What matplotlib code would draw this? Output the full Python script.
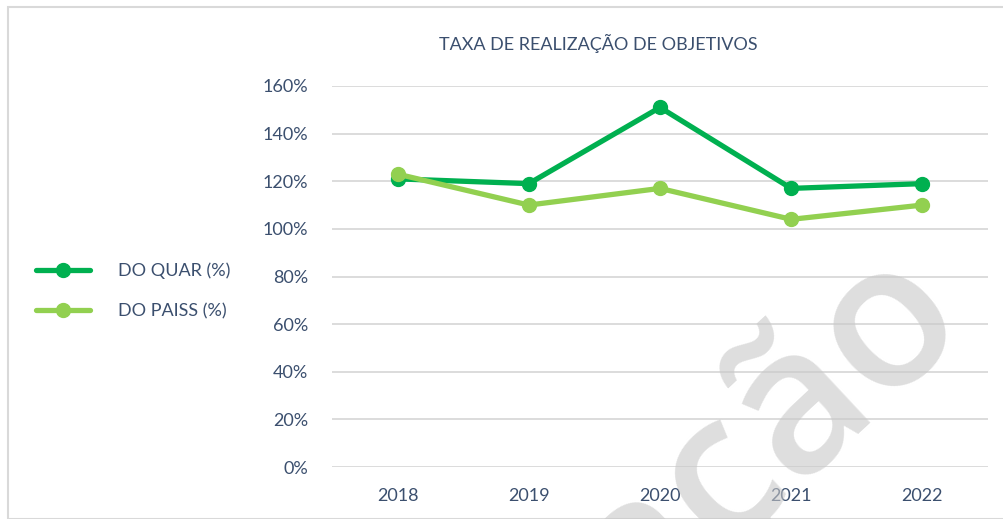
import matplotlib
matplotlib.use("Agg")
import matplotlib.pyplot as plt
from matplotlib.patches import Rectangle

years = ["2018", "2019", "2020", "2021", "2022"]
do_quar = [121, 119, 151, 117, 119]
do_paiss = [123, 110, 117, 104, 110]
series_names = ["DO QUAR (%)", "DO PAISS (%)"]
title = "TAXA DE REALIZAÇÃO DE OBJETIVOS"
yticks = [0, 20, 40, 60, 80, 100, 120, 140, 160]

plt.rcParams['font.family'] = ['Lato', 'DejaVu Sans']
txt = '#3B4F6E'
fs = 13

fig = plt.figure(figsize=(10.04, 5.19), dpi=100)
W, H = 1004, 519
ax = fig.add_axes([332 / W, 1 - 467 / H, (988 - 332) / W, (467 - 86) / H])

x = list(range(len(years)))
l1, = ax.plot(x, do_quar, color='#00B050', lw=3.8, marker='o', ms=10,
              solid_capstyle='round', zorder=3, label=series_names[0])
l2, = ax.plot(x, do_paiss, color='#92D050', lw=3.8, marker='o', ms=10,
              solid_capstyle='round', zorder=4, label=series_names[1])

ax.set_xlim(-0.5, len(years) - 0.5)
ax.set_ylim(0, 160)
ax.set_yticks(yticks)
ax.set_yticklabels([f"{v}%" for v in yticks])
ax.set_xticks(x)
ax.set_xticklabels(years)
ax.grid(axis='y', color='#D9D9D9', lw=1.3)
ax.set_axisbelow(True)
for s in ax.spines.values():
    s.set_visible(False)
ax.tick_params(length=0, labelsize=fs, colors=txt, pad=0)
ax.tick_params(axis='y', pad=17)
ax.tick_params(axis='x', pad=15)

fig.text(598 / W, 1 - 43 / H, title, ha='center', va='center', fontsize=fs, color=txt)

fig.legend(handles=[l1, l2], loc='center left', bbox_to_anchor=(20 / W, 1 - 291 / H),
           frameon=False, fontsize=fs, labelcolor=txt, handlelength=3.0,
           handletextpad=1.5, labelspacing=1.35)

fig.patches.append(Rectangle((8 / W, 0), 1.2, 1 - 7 / H, transform=fig.transFigure,
                             fill=False, ec='#D9D9D9', lw=1.5))

fig.text(970 / W, 1 - 322 / H, "ação", rotation=43, rotation_mode='anchor',
         ha='right', va='baseline', fontsize=145, fontweight='semibold',
         family='Open Sans', color='#C8C8C8', alpha=0.6, zorder=10)

fig.savefig("out.png", dpi=100)
